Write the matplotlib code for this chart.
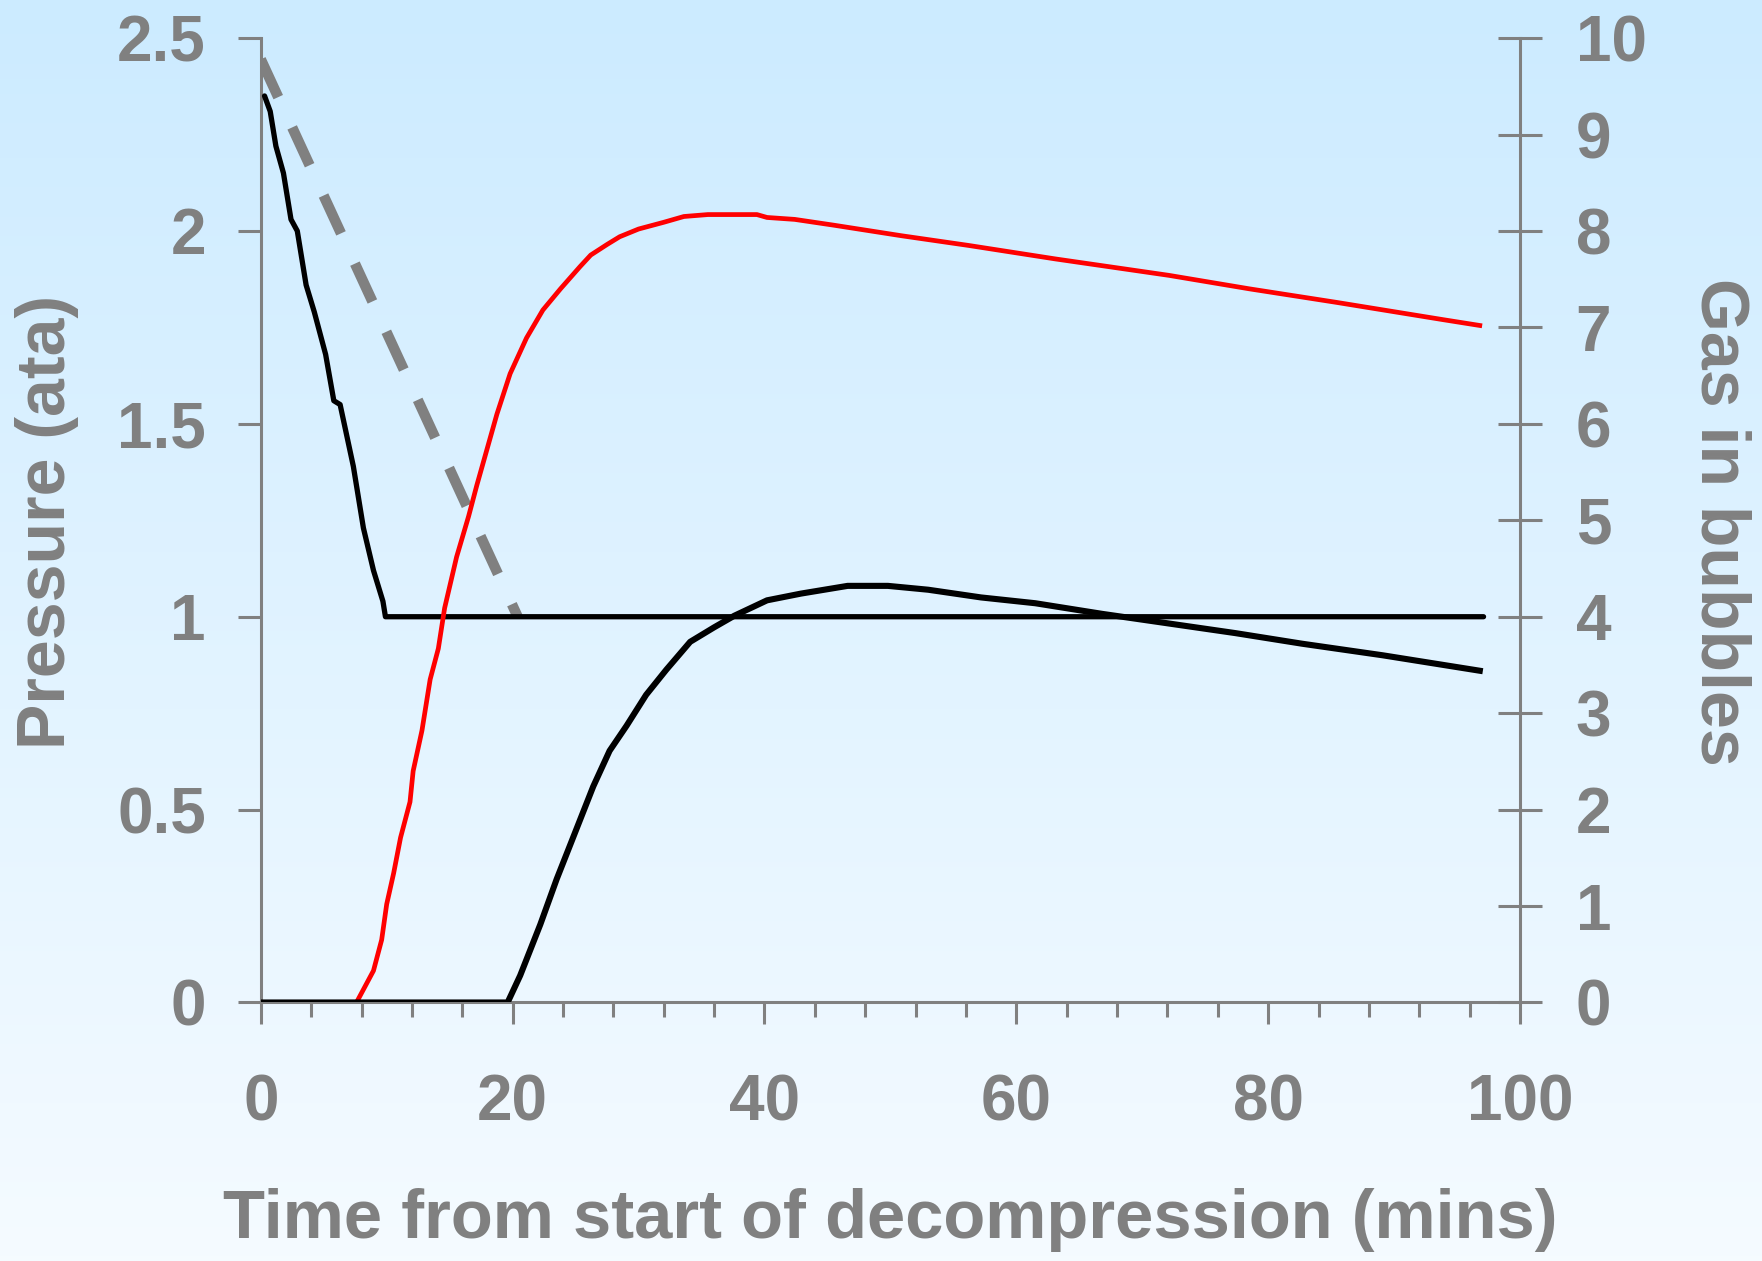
import numpy as np
import matplotlib
matplotlib.use('Agg')
import matplotlib.pyplot as plt
from matplotlib.colors import LinearSegmentedColormap

plt.rcParams['font.family'] = ['Liberation Sans', 'DejaVu Sans']
plt.rcParams['font.weight'] = 'bold'
grey = '#808080'

# ambient pressure (ata), left axis
press_t = [0.3, 0.75, 1.2, 1.8, 2.4, 2.9, 3.6, 4.25, 5.15, 5.8, 6.3, 7.35, 8.15, 8.95, 9.7, 9.9, 97.1]
press_v = [2.35, 2.31, 2.22, 2.15, 2.03, 2.0, 1.86, 1.79, 1.68, 1.56, 1.55, 1.39, 1.23, 1.12, 1.04, 1.0, 1.0]

# dashed pressure line, left axis
dash_t = [0.0, 20.4]
dash_v = [2.445, 1.0]

# gas in bubbles, red curve (right axis)
red_t = [0.0, 7.6, 8.95, 9.6, 10.0, 10.55, 11.1, 11.85, 12.1, 12.8, 13.45, 14.1, 14.6, 15.55,
         16.5, 17.15, 17.95, 18.75, 19.8, 21.1, 22.4, 23.8, 25.35, 26.2, 27.5, 28.5, 30.0,
         32.0, 33.6, 35.5, 39.4, 40.2, 42.4, 45.5, 50.9, 56.2, 63.1, 72.1, 78.5, 85.4, 93.9, 96.8]
red_v = [0.0, 0.0, 0.33, 0.65, 1.02, 1.34, 1.71, 2.08, 2.4, 2.82, 3.35, 3.67, 4.09, 4.62,
         5.04, 5.36, 5.73, 6.1, 6.52, 6.89, 7.18, 7.4, 7.63, 7.75, 7.86, 7.94, 8.02,
         8.09, 8.15, 8.17, 8.17, 8.14, 8.12, 8.06, 7.95, 7.85, 7.71, 7.54, 7.4, 7.26, 7.08, 7.02]

# gas in bubbles, black curve (right axis)
blk_t = [0.0, 19.6, 20.6, 22.2, 23.5, 24.8, 26.4, 27.7, 29.05, 30.6, 32.2, 34.1, 36.0, 37.6,
         40.2, 42.9, 46.6, 49.8, 53.0, 57.2, 61.5, 66.8, 72.1, 77.4, 82.7, 89.1, 96.8]
blk_v = [0.0, 0.0, 0.28, 0.81, 1.28, 1.71, 2.24, 2.61, 2.87, 3.19, 3.45, 3.74, 3.89, 4.01,
         4.17, 4.24, 4.32, 4.32, 4.28, 4.2, 4.14, 4.03, 3.93, 3.83, 3.72, 3.6, 3.44]

fig = plt.figure(figsize=(17.62, 12.61), dpi=100)

# background gradient
bg = fig.add_axes([0, 0, 1, 1], zorder=-10)
cmap = LinearSegmentedColormap.from_list('bg', ['#f5fbff', '#ccebff'])
bg.imshow(np.linspace(0, 1, 256).reshape(-1, 1), aspect='auto', cmap=cmap,
          origin='lower', extent=[0, 1, 0, 1])
bg.axis('off')

ax = fig.add_axes([0.148, 0.205, 0.7147, 0.7648])
ax2 = ax.twinx()
ax.patch.set_alpha(0)
ax2.patch.set_alpha(0)

ax.plot(press_t, press_v, color='black', lw=3.8, solid_joinstyle='round',
        solid_capstyle='round', zorder=3)
ax.plot(dash_t, dash_v, color=grey, lw=7.5, dashes=(4.0, 3.2), dash_capstyle='butt', zorder=2)
ax2.plot(red_t, red_v, color='red', lw=3.4, zorder=3)
ax2.plot(blk_t, blk_v, color='black', lw=4.4, zorder=4)

ax.set_xlim(0, 100)
ax.set_ylim(0, 2.5)
ax2.set_ylim(0, 10)

for a in (ax, ax2):
    for s in a.spines.values():
        s.set_color(grey)
        s.set_linewidth(2.2)
    a.spines['top'].set_visible(False)
ax.spines['right'].set_visible(False)
ax2.spines['left'].set_visible(False)
ax2.spines['bottom'].set_visible(False)

ax.set_xticks(np.arange(0, 101, 20))
ax.set_xticks(np.arange(0, 101, 4), minor=True)
ax.set_yticks([0, 0.5, 1, 1.5, 2, 2.5])
ax.set_yticklabels(['0', '0.5', '1', '1.5', '2', '2.5'])
ax2.set_yticks(range(0, 11))

ax.tick_params(axis='x', which='major', direction='out', length=16, width=2.2, color=grey,
               labelsize=46, labelcolor=grey, pad=35)
ax.tick_params(axis='x', which='minor', direction='out', length=11, width=2.2, color=grey)
ax.tick_params(axis='y', direction='out', length=16.5, width=2.2, color=grey,
               labelsize=46, labelcolor=grey, pad=23)
ax2.tick_params(axis='y', direction='inout', length=32, width=2.2, color=grey,
                labelsize=46, labelcolor=grey, pad=24)

ax.set_xlabel('Time from start of decompression (mins)', fontsize=49.5, color=grey,
              fontweight='bold', va='baseline')
ax.xaxis.set_label_coords(0.5, -0.2444)
ax.set_ylabel('Pressure (ata)', fontsize=49, color=grey, fontweight='bold', va='center')
ax.yaxis.set_label_coords(-0.1697, 0.498)
ax2.set_ylabel('Gas in bubbles', fontsize=49, color=grey, fontweight='bold',
               rotation=270, va='center')
ax2.yaxis.set_label_coords(1.158, 0.498)

fig.savefig('out.png', dpi=100)
